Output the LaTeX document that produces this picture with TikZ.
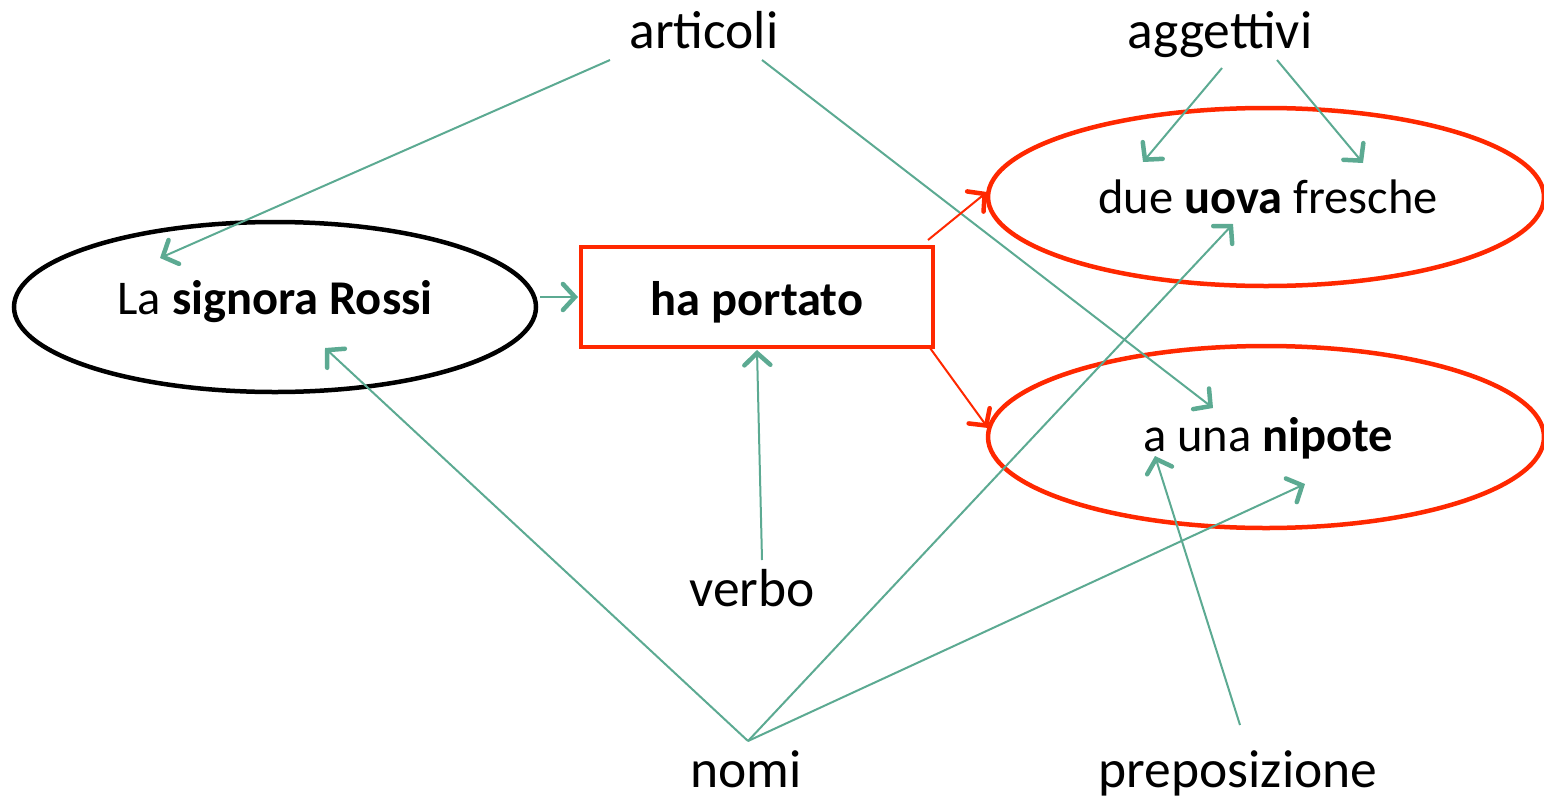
\documentclass[tikz,border=0pt]{standalone}
\usepackage{fontspec}
\setmainfont{Carlito}
\usetikzlibrary{shapes.geometric,arrows.meta}
\definecolor{linkgreen}{RGB}{92,170,146}
\definecolor{boxred}{RGB}{255,40,0}
\tikzset{
  x=1pt, y=-1pt,
  word/.style={font=\fontsize{53.5}{60}\selectfont, inner sep=0pt, anchor=base},
  phrase/.style={font=\fontsize{48.5}{56}\selectfont, inner sep=0pt},
  oval/.style={ellipse, draw, line width=4.5pt},
  link/.style={draw=linkgreen, line width=2pt,
    -{Straight Barb[length=12pt, width=26pt, line width=4.5pt, line cap=round]}},
  redlink/.style={draw=boxred, line width=2pt,
    -{Straight Barb[length=12pt, width=26pt, line width=4.5pt, line cap=round]}},
}
\begin{document}
\begin{tikzpicture}
\useasboundingbox (0,0) rectangle (1544,798);

% phrase ovals and the verb box
\node[oval, draw=black, minimum width=522, minimum height=170] (subj) at (275,307) {};
\node[phrase] (subjt) at (275,302) {La \textbf{signora Rossi}};
\node[draw=boxred, line width=4.5pt, minimum width=352, minimum height=100, inner sep=0pt] (verb) at (757,297) {};
\node[phrase] at (757,302) {\textbf{ha portato}};
\node[oval, draw=boxred, minimum width=556, minimum height=178] (obj) at (1266,197) {};
\node[phrase] (objt) at (1268,197) {due \textbf{uova} fresche};
\node[oval, draw=boxred, minimum width=556, minimum height=182] (ind) at (1266,437) {};
\node[phrase] (indt) at (1268,438) {a una \textbf{nipote}};

% part-of-speech labels
\node[word] (art) at (704,48) {articoli};
\node[word] (agg) at (1220,48) {aggettivi};
\node[word] (vrb) at (752,606) {verbo};
\node[word] (nom) at (746,787) {nomi};
\node[word] (prep) at (1238,787) {preposizione};

% end points of the connectors
\coordinate (artL) at (610,60);
\coordinate (artR) at (762,60);
\coordinate (aggL) at (1222,68);
\coordinate (aggR) at (1277,60);
\coordinate (nomT) at (748,741);
\coordinate (vrbT) at (762,560);
\coordinate (prepT) at (1240,725);
\coordinate (subjIn) at (160,258);
\coordinate (subjNom) at (325,348);
\coordinate (subjOut) at (540,297);
\coordinate (verbIn) at (578,297);
\coordinate (verbBot) at (757,350);
\coordinate (verbTR) at (928,240);
\coordinate (verbBR) at (930,348);
\coordinate (objIn) at (987,192);
\coordinate (objDue) at (1143,162);
\coordinate (objFre) at (1363,163);
\coordinate (objNom) at (1233,224);
\coordinate (indIn) at (988,428);
\coordinate (indArt) at (1213,408);
\coordinate (indNom) at (1305,484);
\coordinate (indPrep) at (1155,456);

% connectors
\draw[link] (artL) -- (subjIn);
\draw[link] (artR) -- (indArt);
\draw[link] (aggL) -- (objDue);
\draw[link] (aggR) -- (objFre);
\draw[link] (nomT) -- (subjNom);
\draw[link] (nomT) -- (objNom);
\draw[link] (nomT) -- (indNom);
\draw[link] (vrbT) -- (verbBot);
\draw[link] (prepT) -- (indPrep);
\draw[link] (subjOut) -- (verbIn);
\draw[redlink] (verbTR) -- (objIn);
\draw[redlink] (verbBR) -- (indIn);
\end{tikzpicture}
\end{document}
